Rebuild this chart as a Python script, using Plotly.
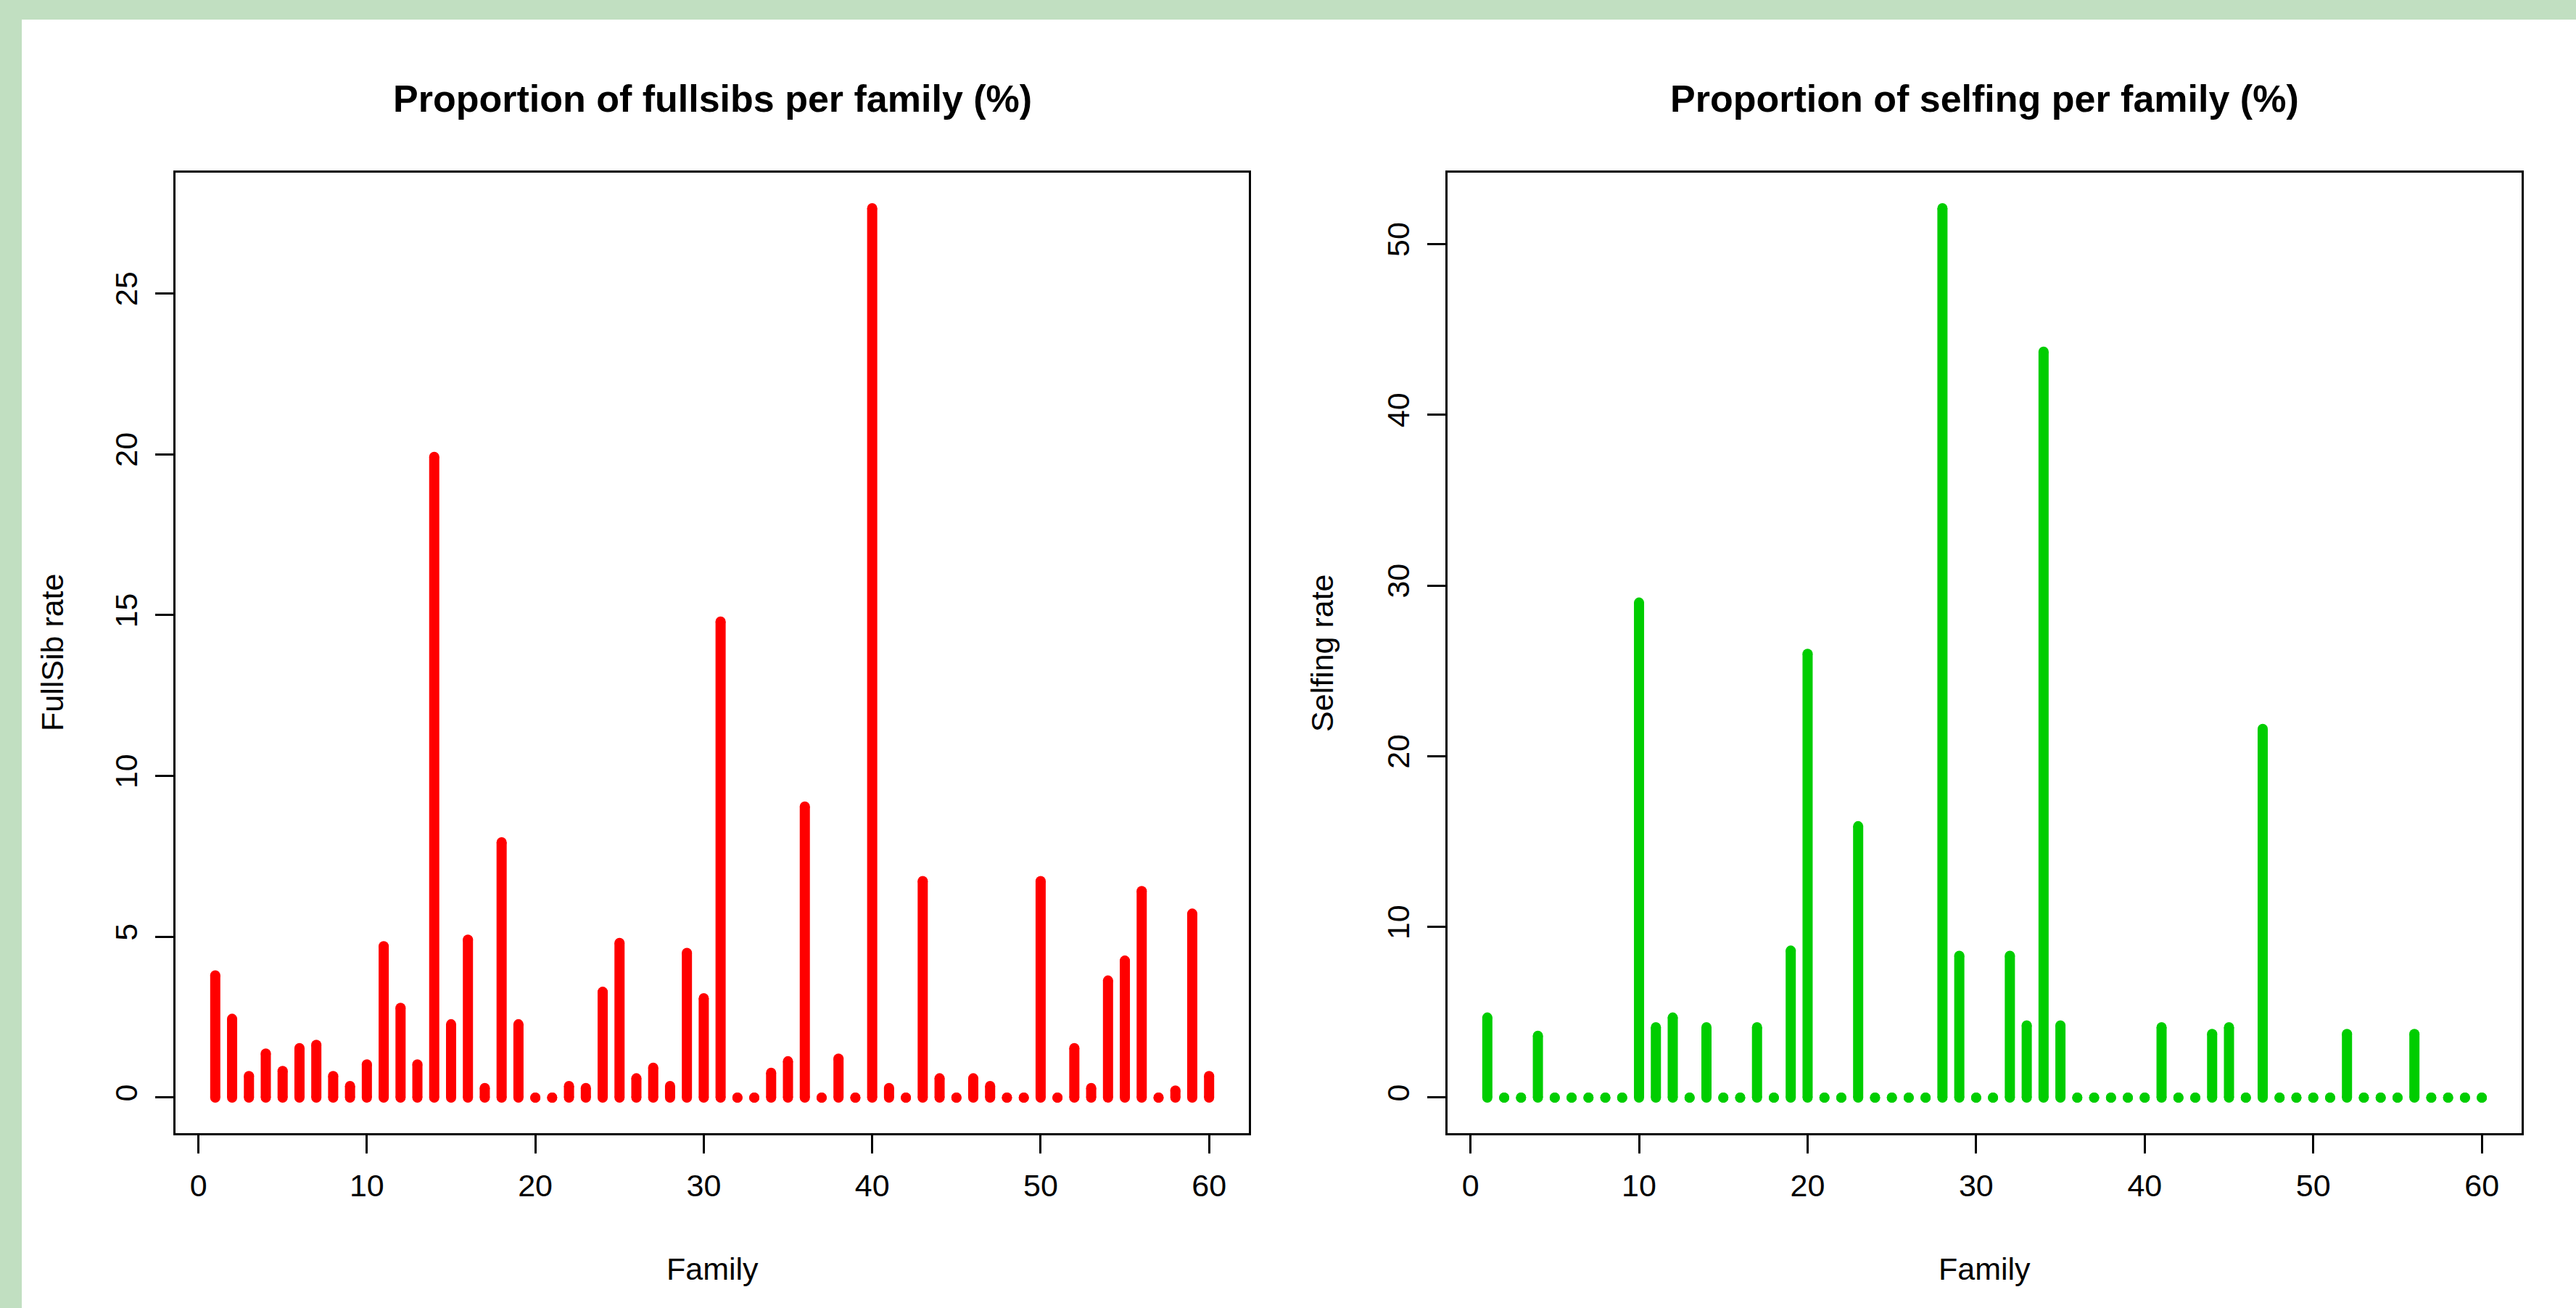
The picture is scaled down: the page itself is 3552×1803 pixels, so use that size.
import plotly.graph_objects as go

# ---------------- data ----------------
families = list(range(1, 61))

fullsib_rate = [
    3.8, 2.45, 0.67, 1.37, 0.83, 1.54, 1.64, 0.67, 0.36, 1.03,
    4.71, 2.79, 1.03, 19.92, 2.28, 4.91, 0.30, 7.94, 2.28, 0.0,
    0.0, 0.36, 0.30, 3.29, 4.81, 0.60, 0.93, 0.36, 4.50, 3.09,
    14.8, 0.0, 0.0, 0.77, 1.13, 9.05, 0.0, 1.21, 0.0, 27.65,
    0.30, 0.0, 6.73, 0.60, 0.0, 0.60, 0.36, 0.0, 0.0, 6.73,
    0.0, 1.54, 0.30, 3.64, 4.26, 6.42, 0.0, 0.22, 5.72, 0.67,
]

selfing_rate = [
    4.69, 0.0, 0.0, 3.62, 0.0, 0.0, 0.0, 0.0, 0.0, 29.0,
    4.12, 4.69, 0.0, 4.12, 0.0, 0.0, 4.12, 0.0, 8.61, 26.0,
    0.0, 0.0, 15.9, 0.0, 0.0, 0.0, 0.0, 52.1, 8.31, 0.0,
    0.0, 8.31, 4.23, 43.7, 4.23, 0.0, 0.0, 0.0, 0.0, 0.0,
    4.12, 0.0, 0.0, 3.73, 4.12, 0.0, 21.6, 0.0, 0.0, 0.0,
    0.0, 3.73, 0.0, 0.0, 0.0, 3.73, 0.0, 0.0, 0.0, 0.0,
]

x_ticks = [0, 10, 20, 30, 40, 50, 60]
left_y_ticks = [0, 5, 10, 15, 20, 25]
right_y_ticks = [0, 10, 20, 30, 40, 50]

titles = ["Proportion of fullsibs per family (%)", "Proportion of selfing per family (%)"]
x_label = "Family"
y_labels = ["FullSib rate", "Selfing rate"]

# ---------------- layout helpers ----------------
W, H = 3552, 1803
FONT = "Liberation Sans, Arial, sans-serif"
RED = "#FF0000"
GREEN = "#00CD00"
BG_GREEN = "#C1DFC1"


def stems(xs, ys):
    X, Y = [], []
    for x, y in zip(xs, ys):
        X += [x, x, None]
        Y += [0, y, None]
    return X, Y


def r_range(vals):
    lo, hi = min(vals), max(vals)
    ext = 0.04 * (hi - lo)
    return [lo - ext, hi + ext]


left_dom = [242 / W, 1722 / W]
right_dom = [1996 / W, 3477 / W]
y_dom = [1 - 1562 / H, 1 - 238 / H]

fig = go.Figure()

lx, ly = stems(families, fullsib_rate)
fig.add_trace(go.Scatter(
    x=lx, y=ly, mode="lines+markers", xaxis="x", yaxis="y",
    line=dict(color=RED, width=14),
    marker=dict(color=RED, size=14, line=dict(width=0)),
    connectgaps=False, hoverinfo="skip", showlegend=False,
))
rx, ry = stems(families, selfing_rate)
fig.add_trace(go.Scatter(
    x=rx, y=ry, mode="lines+markers", xaxis="x2", yaxis="y2",
    line=dict(color=GREEN, width=14),
    marker=dict(color=GREEN, size=14, line=dict(width=0)),
    connectgaps=False, hoverinfo="skip", showlegend=False,
))

axis_common = dict(
    showline=True, linecolor="black", linewidth=2.7, mirror=True,
    ticks="outside", ticklen=25, tickwidth=2.7, tickcolor="black",
    tickfont=dict(family=FONT, size=43, color="black"),
    showgrid=False, zeroline=False, automargin=False,
)

fig.update_layout(
    width=W, height=H,
    margin=dict(l=0, r=0, t=0, b=0, pad=0),
    paper_bgcolor=BG_GREEN,
    plot_bgcolor="white",
    showlegend=False,
    xaxis=dict(domain=left_dom, range=r_range(families), tickvals=x_ticks,
               anchor="y", ticklabelstandoff=8, **axis_common),
    yaxis=dict(domain=y_dom, range=r_range([0] + fullsib_rate), tickvals=left_y_ticks,
               anchor="x", tickangle=-90, ticklabelstandoff=8, **axis_common),
    xaxis2=dict(domain=right_dom, range=r_range(families), tickvals=x_ticks,
                anchor="y2", ticklabelstandoff=8, **axis_common),
    yaxis2=dict(domain=y_dom, range=r_range([0] + selfing_rate), tickvals=right_y_ticks,
                anchor="x2", tickangle=-90, ticklabelstandoff=8, **axis_common),
    shapes=[dict(type="rect", xref="paper", yref="paper",
                 x0=30 / W, x1=1.02, y0=-0.02, y1=1 - 27 / H,
                 fillcolor="white", line=dict(width=0), layer="below")],
)

annotations = []
for dom, t in zip([left_dom, right_dom], titles):
    annotations.append(dict(
        text="<b>" + t + "</b>", xref="paper", yref="paper",
        x=(dom[0] + dom[1]) / 2, y=1 - 136 / H, xanchor="center", yanchor="middle",
        showarrow=False, font=dict(family=FONT, size=52, color="black"),
    ))
    annotations.append(dict(
        text=x_label, xref="paper", yref="paper",
        x=(dom[0] + dom[1]) / 2, y=1 - 1749 / H, xanchor="center", yanchor="middle",
        showarrow=False, font=dict(family=FONT, size=43, color="black"),
    ))
for xc, t in zip([72 / W, 1823 / W], y_labels):
    annotations.append(dict(
        text=t, xref="paper", yref="paper", textangle=-90,
        x=xc, y=(y_dom[0] + y_dom[1]) / 2, xanchor="center", yanchor="middle",
        showarrow=False, font=dict(family=FONT, size=43, color="black"),
    ))
fig.update_layout(annotations=annotations)

fig.write_html(
    "out.html",
    config={"displayModeBar": False},
    post_script="document.body.style.margin='0';document.body.style.overflow='hidden';",
)
